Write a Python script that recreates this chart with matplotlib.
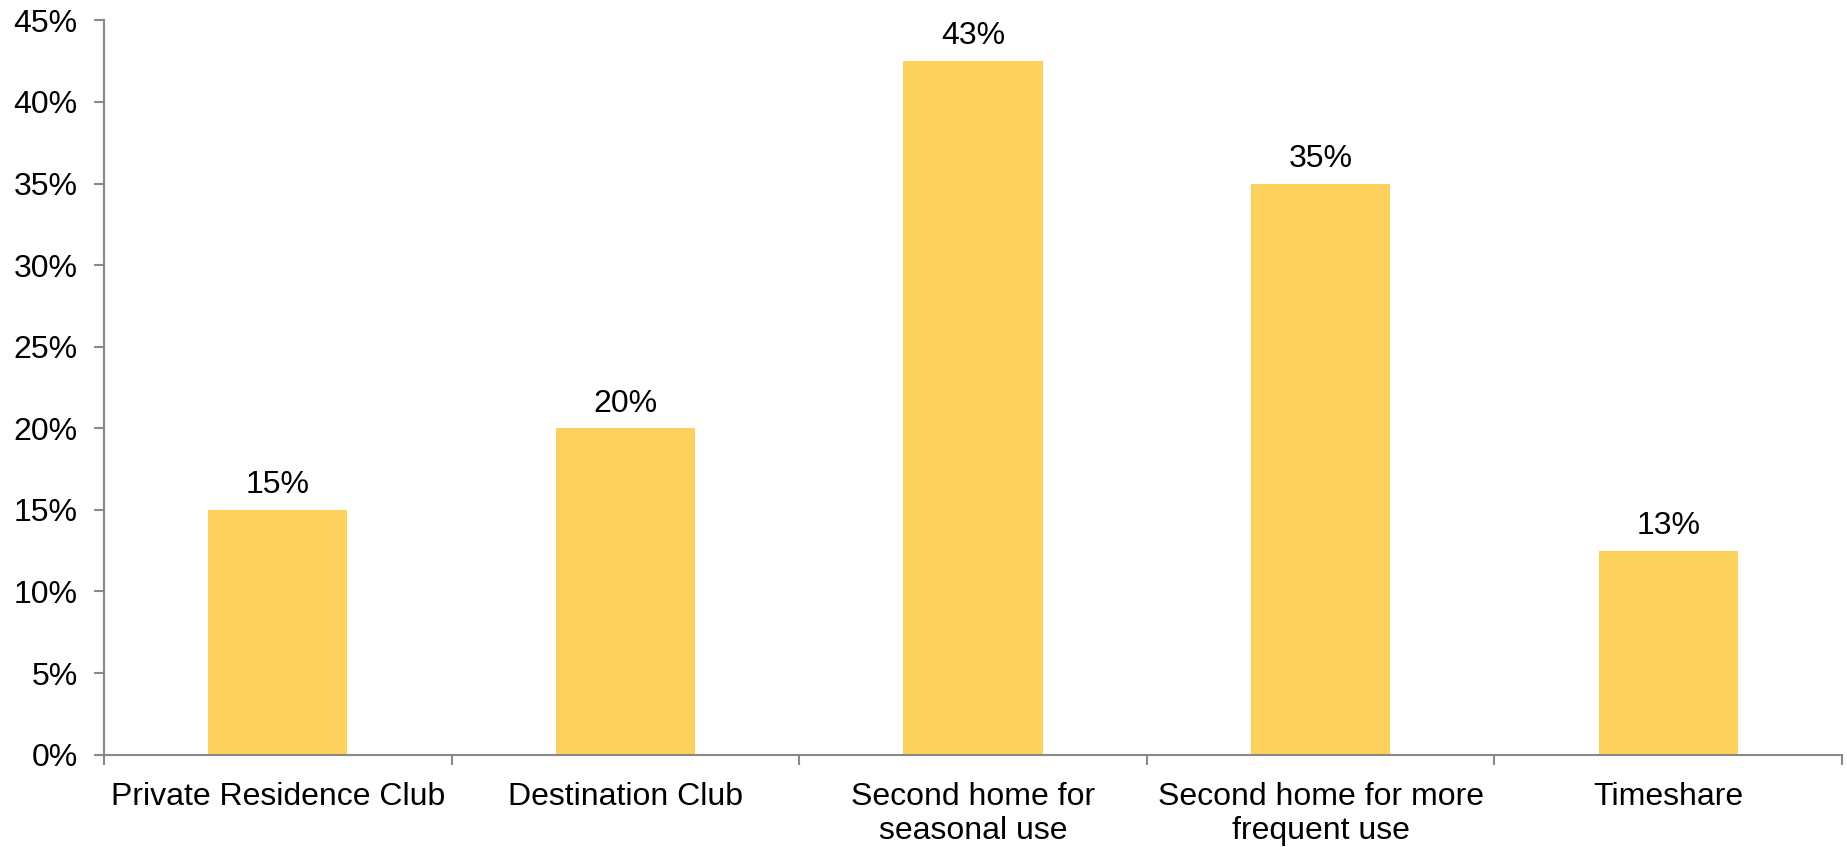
import matplotlib
matplotlib.use("Agg")
import matplotlib.pyplot as plt
from matplotlib.ticker import FuncFormatter

# Categories and shares (percent)
categories = [
    "Private Residence Club",
    "Destination Club",
    "Second home for\nseasonal use",
    "Second home for more\nfrequent use",
    "Timeshare",
]
shares = [15, 20, 42.5, 35, 12.5]

BAR_COLOR = "#FDD25C"
AXIS_COLOR = "#898989"
FONT_SIZE = 23

plt.rcParams["font.family"] = ["Liberation Sans", "DejaVu Sans"]

fig = plt.figure(figsize=(18.47, 8.47), dpi=100)
ax = fig.add_axes([0.0563, 0.109, 0.941, 0.867])

x = list(range(len(categories)))
bars = ax.bar(x, shares, width=0.4, color=BAR_COLOR, zorder=2)

# value labels above the bars (rounded half up)
for xi, v in zip(x, shares):
    ax.annotate(f"{int(v + 0.5)}%", (xi, v), xytext=(0, 7), textcoords="offset points",
                ha="center", va="bottom", fontsize=FONT_SIZE, color="black")

ax.set_xlim(-0.5, len(categories) - 0.5)
ax.set_ylim(0, 45)
ax.set_yticks(range(0, 50, 5))
ax.yaxis.set_major_formatter(FuncFormatter(lambda v, _: f"{v:.0f}%"))

# category ticks sit between the bars
ax.set_xticks([i - 0.5 for i in range(len(categories) + 1)])
ax.set_xticklabels([])
ax.set_xticks(x, minor=True)
ax.set_xticklabels(categories, minor=True, fontsize=FONT_SIZE, linespacing=1.15)
ax.tick_params(axis="x", which="minor", length=0, pad=20)
ax.tick_params(axis="x", which="major", length=7, width=1.5, color=AXIS_COLOR, direction="out")
ax.tick_params(axis="y", length=7, width=1.5, color=AXIS_COLOR, labelsize=FONT_SIZE, pad=12)

for side in ["top", "right"]:
    ax.spines[side].set_visible(False)
for side in ["left", "bottom"]:
    ax.spines[side].set_color(AXIS_COLOR)
    ax.spines[side].set_linewidth(1.5)

fig.savefig("out.png", dpi=100)
